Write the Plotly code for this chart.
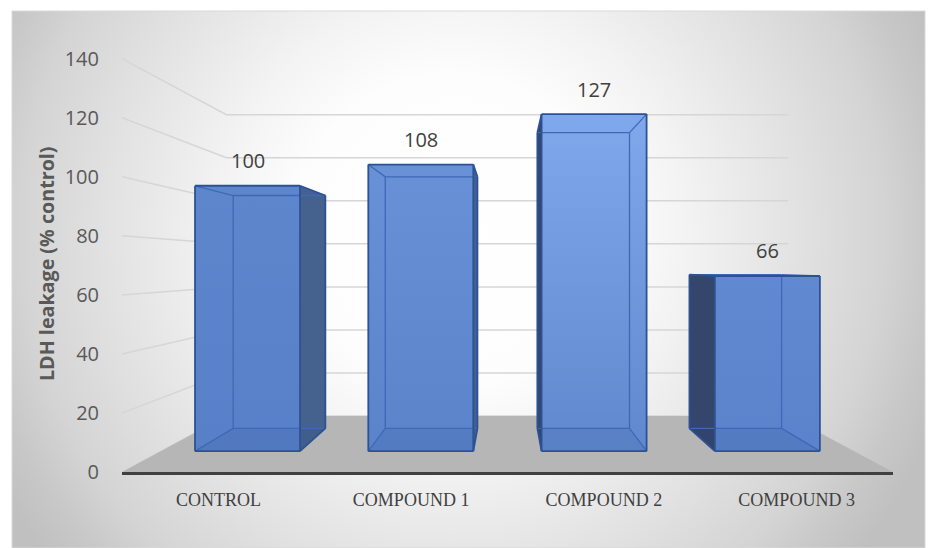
import base64
import plotly.graph_objects as go

# ---- data -------------------------------------------------------------
categories = ["CONTROL", "COMPOUND 1", "COMPOUND 2", "COMPOUND 3"]
ldh_leakage = [100, 108, 127, 66]
value_ticks = [0, 20, 40, 60, 80, 100, 120, 140]

# ---- 3-D projection setup (front-plane units) -------------------------
X_LEFT, X_RIGHT = -130.5, 130.85     # floor extent in world units
Y_MAX = 145
VY = 70                              # value level of the vanishing point
R_WALL = 0.729                       # depth ratio of the back wall
R_BAR_FRONT = 0.899                  # depth ratio of bar front faces
R_BAR_BACK = 0.789                   # depth ratio of bar back faces
BAR_FRAC = 0.606                     # bar width / category width


def proj(u, v, r):
    """Project a world point (u, value v) at depth ratio r into plot coords."""
    return u * r, VY + r * (v - VY)


def poly(points):
    xs = [p[0] for p in points] + [points[0][0]]
    ys = [p[1] for p in points] + [points[0][1]]
    return xs, ys


fig = go.Figure()

# ---- wall gridlines ---------------------------------------------------
gx, gy = [], []
for v in value_ticks:
    for p in (proj(X_LEFT, v, 1.0), proj(X_LEFT, v, R_WALL), proj(X_RIGHT, v, R_WALL)):
        gx.append(p[0])
        gy.append(p[1])
    gx.append(None)
    gy.append(None)
fig.add_trace(go.Scatter(x=gx, y=gy, mode="lines",
                         line=dict(color="#d6d6d6", width=1.5),
                         hoverinfo="skip", showlegend=False))

# ---- floor ------------------------------------------------------------
fx, fy = poly([proj(X_LEFT, 0, 1.0), proj(X_RIGHT, 0, 1.0),
               proj(X_RIGHT, 0, R_WALL), proj(X_LEFT, 0, R_WALL)])
fig.add_trace(go.Scatter(x=fx, y=fy, mode="lines", fill="toself",
                         fillcolor="#b6b6b6", line=dict(width=0),
                         hoverinfo="skip", showlegend=False))

# ---- bars -------------------------------------------------------------
cat_w = (X_RIGHT - X_LEFT) / len(categories)
centers = [X_LEFT + (i + 0.5) * cat_w for i in range(len(categories))]
half = BAR_FRAC * cat_w / 2
shade_bottom = ["#5780C8", "#5A83CA", "#5F88CE", "#5A83CB"]
shade_top = ["#5D86CD", "#6891D7", "#80A8EC", "#6189D1"]


def face(points, **kw):
    xs, ys = poly(points)
    fig.add_trace(go.Scatter(x=xs, y=ys, mode="lines", fill="toself",
                             line=dict(width=0), hoverinfo="skip",
                             showlegend=False, **kw))


def edges(segs, color, width):
    xs, ys = [], []
    for a, b in segs:
        xs += [a[0], b[0], None]
        ys += [a[1], b[1], None]
    fig.add_trace(go.Scatter(x=xs, y=ys, mode="lines",
                             line=dict(color=color, width=width),
                             hoverinfo="skip", showlegend=False))


for i, (c, val) in enumerate(zip(centers, ldh_leakage)):
    u0, u1 = c - half, c + half
    F = lambda u, v: proj(u, v, R_BAR_FRONT)
    B = lambda u, v: proj(u, v, R_BAR_BACK)
    # back face
    face([B(u0, 0), B(u1, 0), B(u1, val), B(u0, val)], fillcolor=shade_bottom[i])
    # visible side face
    if c < 0:
        us, side_col, hs = u1, "#45618E", u0
    else:
        us, side_col, hs = u0, "#34466C", u1
    face([F(us, 0), B(us, 0), B(us, val), F(us, val)], fillcolor=side_col)
    # front face
    face([F(u0, 0), F(u1, 0), F(u1, val), F(u0, val)], fillcolor=shade_bottom[i],
         fillgradient=dict(type="vertical",
                           colorscale=[[0, shade_bottom[i]], [1, shade_top[i]]]))
    # bottom face seen through the front
    face([F(u0, 0), F(u1, 0), B(u1, 0), B(u0, 0)], fillcolor="rgba(30,60,120,0.10)")
    # hidden edges
    edges([(B(hs, 0), B(hs, val)), (B(u0, val), B(u1, val)), (B(u0, 0), B(u1, 0)),
           (F(hs, val), B(hs, val)), (F(hs, 0), B(hs, 0))], "#3D69B6", 1.3)
    # outer edges
    edges([(F(u0, 0), F(u1, 0)), (F(u1, 0), F(u1, val)), (F(u1, val), F(u0, val)),
           (F(u0, val), F(u0, 0)), (F(us, val), B(us, val)), (F(us, 0), B(us, 0)),
           (B(us, 0), B(us, val))], "#2C5293", 1.8)

# value labels
for c, val in zip(centers, ldh_leakage):
    x, y = proj(c, val, R_BAR_FRONT)
    fig.add_annotation(x=x, y=y, text=str(val), showarrow=False, yshift=25,
                       yanchor="middle",
                       font=dict(family="Open Sans", size=20, color="#404040"))

# ---- background --------------------------------------------------------
svg = (
    "<svg xmlns='http://www.w3.org/2000/svg' width='913' height='537' "
    "viewBox='0 0 913 537' preserveAspectRatio='none'><defs>"
    "<radialGradient id='g' gradientUnits='userSpaceOnUse' cx='440' cy='220' r='520'>"
    "<stop offset='0' stop-color='#ffffff'/>"
    "<stop offset='0.3' stop-color='#fdfdfd'/>"
    "<stop offset='0.45' stop-color='#f3f3f3'/>"
    "<stop offset='0.65' stop-color='#e3e3e3'/>"
    "<stop offset='0.83' stop-color='#d4d4d4'/>"
    "<stop offset='0.92' stop-color='#c8c8c8'/>"
    "<stop offset='1' stop-color='#c0c0c0'/>"
    "</radialGradient></defs>"
    "<rect width='913' height='537' fill='url(#g)'/></svg>"
)
src = "data:image/svg+xml;base64," + base64.b64encode(svg.encode()).decode()

L, R, T, Bm = 122, 36, 44, 76
W, H = 929, 548
pw, ph = W - L - R, H - T - Bm


def px_x(px):
    return (px - L) / pw


def px_y(py):
    return (H - Bm - py) / ph


fig.add_layout_image(source=src, xref="paper", yref="paper",
                     x=px_x(12), y=px_y(11), sizex=913 / pw, sizey=537 / ph,
                     xanchor="left", yanchor="top", sizing="stretch", layer="below")
fig.add_shape(type="rect", xref="paper", yref="paper",
              x0=px_x(12), y0=px_y(548), x1=px_x(925), y1=px_y(11),
              line=dict(color="#d9d9d9", width=1), layer="below")

# axis title
fig.add_annotation(xref="paper", yref="paper", x=px_x(46), y=px_y(264),
                   text="<b>LDH leakage (% control)</b>", textangle=-90,
                   showarrow=False, xanchor="center", yanchor="middle",
                   font=dict(family="Open Sans", size=19.7, color="#595959"))

fig.update_layout(
    width=W, height=H,
    margin=dict(l=L, r=R, t=T, b=Bm),
    paper_bgcolor="white", plot_bgcolor="rgba(0,0,0,0)",
    showlegend=False,
    xaxis=dict(range=[X_LEFT, X_RIGHT], showgrid=False, zeroline=False,
               showline=True, linecolor="#404040", linewidth=2.5,
               tickmode="array", tickvals=centers, ticktext=categories,
               ticks="outside", ticklen=10, tickcolor="rgba(0,0,0,0)",
               tickfont=dict(family="Liberation Serif", size=18, color="#404040"),
               fixedrange=True),
    yaxis=dict(range=[0, Y_MAX], showgrid=False, zeroline=False, showline=False,
               tickmode="array", tickvals=value_ticks,
               ticks="outside", ticklen=18, tickcolor="rgba(0,0,0,0)",
               tickfont=dict(family="Open Sans", size=20, color="#595959"),
               fixedrange=True),
)

fig.write_html("out.html")
